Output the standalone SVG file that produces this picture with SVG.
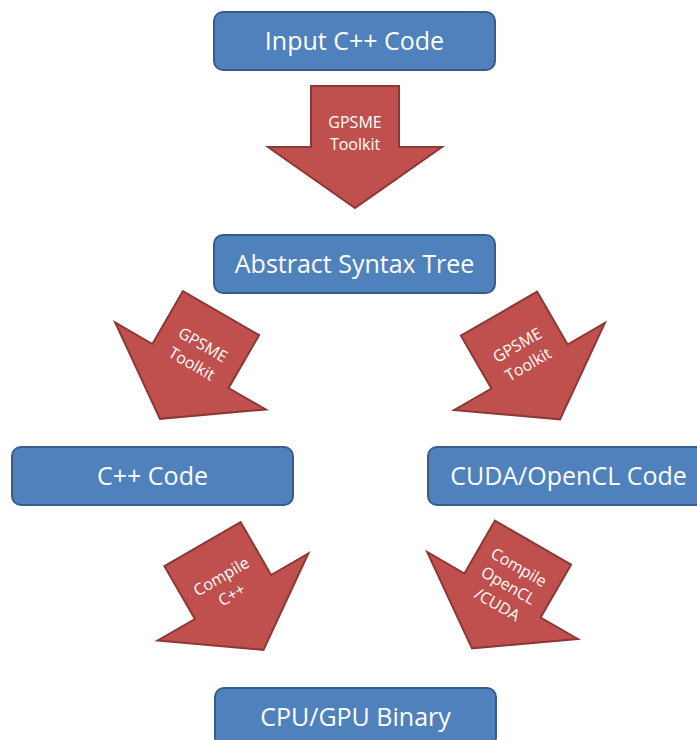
<svg xmlns="http://www.w3.org/2000/svg" width="697" height="740" viewBox="0 0 697 740">
<defs>
<style>
.box{fill:#4F81BD;stroke:#385D8A;stroke-width:2}
.bt{fill:#fff;font-family:"Open Sans","Liberation Sans",sans-serif;font-size:25px;text-anchor:middle}
.arr{fill:#C0504D;stroke:#8C3836;stroke-width:2;stroke-linejoin:miter}
.at{fill:#fff;font-family:"Open Sans","Liberation Sans",sans-serif;font-size:16px;text-anchor:middle}
</style>
<path id="bigarrow" d="M -44,-61 L 44,-61 L 44,0 L 87,0 L 0,61 L -87,0 L -44,0 Z"/>
</defs>
<rect width="697" height="740" fill="#fff"/>
<g id="connectors">
<g id="arrow-input-ast" transform="translate(355,147)">
<use href="#bigarrow" class="arr"/>
<text class="at" x="0" y="-19">GPSME</text>
<text class="at" x="0" y="3">Toolkit</text>
</g>
<g id="arrow-ast-cpp" transform="translate(190.5,366) rotate(30)">
<use href="#bigarrow" class="arr"/>
<text class="at" x="0" y="-19">GPSME</text>
<text class="at" x="0" y="3">Toolkit</text>
</g>
<g id="arrow-ast-cuda" transform="translate(529.5,366.5) rotate(-30)">
<use href="#bigarrow" class="arr"/>
<text class="at" x="0" y="-19">GPSME</text>
<text class="at" x="0" y="3">Toolkit</text>
</g>
<g id="arrow-cpp-binary" transform="translate(233,597) rotate(-30)">
<use href="#bigarrow" class="arr"/>
<text class="at" x="0" y="-18">Compile</text>
<text class="at" x="0" y="3">C++</text>
</g>
<g id="arrow-cuda-binary" transform="translate(502.5,595.5) rotate(30)">
<use href="#bigarrow" class="arr"/>
<text class="at" x="0" y="-27">Compile</text>
<text class="at" x="0" y="-6">OpenCL</text>
<text class="at" x="0" y="16">/CUDA</text>
</g>
</g>
<g id="node-input">
<rect class="box" x="214" y="12" width="281" height="58" rx="9"/>
<text class="bt" x="354.5" y="50">Input C++ Code</text>
</g>
<g id="node-ast">
<rect class="box" x="214" y="235" width="281" height="58" rx="9"/>
<text class="bt" x="354.5" y="273">Abstract Syntax Tree</text>
</g>
<g id="node-cpp">
<rect class="box" x="12" y="447" width="281" height="58" rx="9"/>
<text class="bt" x="152.5" y="485">C++ Code</text>
</g>
<g id="node-cuda">
<rect class="box" x="428" y="447" width="281" height="58" rx="9"/>
<text class="bt" x="568.5" y="485">CUDA/OpenCL Code</text>
</g>
<g id="node-binary">
<rect class="box" x="215" y="688" width="281" height="58" rx="9"/>
<text class="bt" x="355.5" y="726">CPU/GPU Binary</text>
</g>
</svg>
